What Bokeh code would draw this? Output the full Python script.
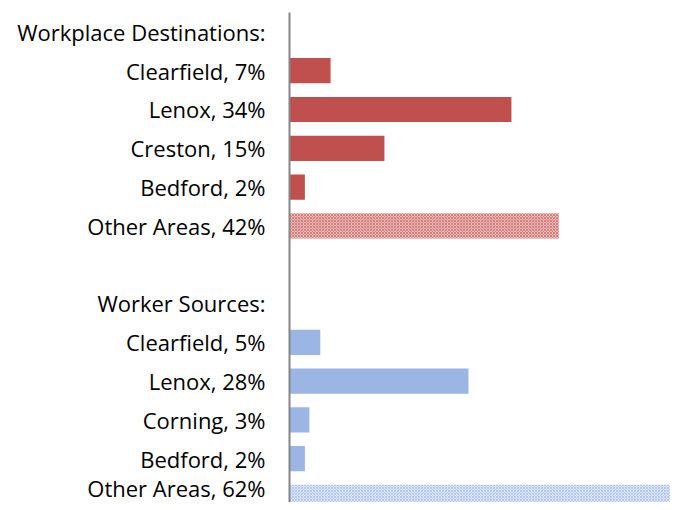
from bokeh.plotting import figure
from bokeh.models import Range1d, FixedTicker, ColumnDataSource
from bokeh.embed import file_html
from bokeh.resources import INLINE

# Data
dest_places = ["Clearfield", "Lenox", "Creston", "Bedford", "Other Areas"]
dest_labels = ["7%", "34%", "15%", "2%", "42%"]
dest_values = [6.4, 34.6, 14.8, 2.4, 42.0]

src_places = ["Clearfield", "Lenox", "Corning", "Bedford", "Other Areas"]
src_labels = ["5%", "28%", "3%", "2%", "62%"]
src_values = [4.8, 27.9, 3.1, 2.4, 62.0]

header_dest = "Workplace Destinations:"
header_src = "Worker Sources:"

red = "#C0504D"
blue = "#9BB6E5"

# Row layout (0 at top)
tick_text = [header_dest] + [f"{p}, {l}" for p, l in zip(dest_places, dest_labels)] + [" "] + \
            [header_src] + [f"{p}, {l}" for p, l in zip(src_places, src_labels)]
rows = list(range(len(tick_text)))
dest_rows = rows[1:6]
src_rows = rows[8:13]

p = figure(width=670, height=502, output_backend="svg", toolbar_location=None,
           x_range=Range1d(0, 59.4), y_range=Range1d(12.13, -0.5),
           min_border_left=289, min_border_right=0, min_border_top=12, min_border_bottom=0)

solid_d = ColumnDataSource(dict(y=dest_rows[:4], right=dest_values[:4]))
solid_s = ColumnDataSource(dict(y=src_rows[:4], right=src_values[:4]))
p.hbar(y="y", right="right", left=0, height=0.65, source=solid_d, fill_color=red, line_color=None)
p.hbar(y="y", right="right", left=0, height=0.65, source=solid_s, fill_color=blue, line_color=None)

other_d = ColumnDataSource(dict(y=[dest_rows[4]], right=[dest_values[4]]))
other_s = ColumnDataSource(dict(y=[src_rows[4]], right=[src_values[4]]))
p.hbar(y="y", right="right", left=0, height=0.65, source=other_d, fill_color="#EAB9B8",
       line_color=None, hatch_pattern="diagonal_cross", hatch_color=red, hatch_scale=3,
       hatch_weight=1, hatch_alpha=0.55)
p.hbar(y="y", right="right", left=0, height=0.65, source=other_s, fill_color="#DCE6F8",
       line_color=None, hatch_pattern="diagonal_cross", hatch_color=blue, hatch_scale=3,
       hatch_weight=1, hatch_alpha=0.6)

p.xaxis.visible = False
p.xgrid.visible = False
p.ygrid.visible = False
p.outline_line_color = None

ya = p.yaxis[0]
ya.ticker = FixedTicker(ticks=rows)
ya.major_label_overrides = {r: t for r, t in zip(rows, tick_text)}
ya.major_tick_line_color = None
ya.minor_tick_line_color = None
ya.major_tick_out = 0
ya.major_tick_in = 0
ya.major_label_standoff = 24
ya.axis_line_color = "#868686"
ya.axis_line_width = 2
ya.major_label_text_font = "Open Sans"
ya.major_label_text_font_size = "22px"
ya.major_label_text_color = "#000000"

open("out.html", "w").write(file_html(p, INLINE))
